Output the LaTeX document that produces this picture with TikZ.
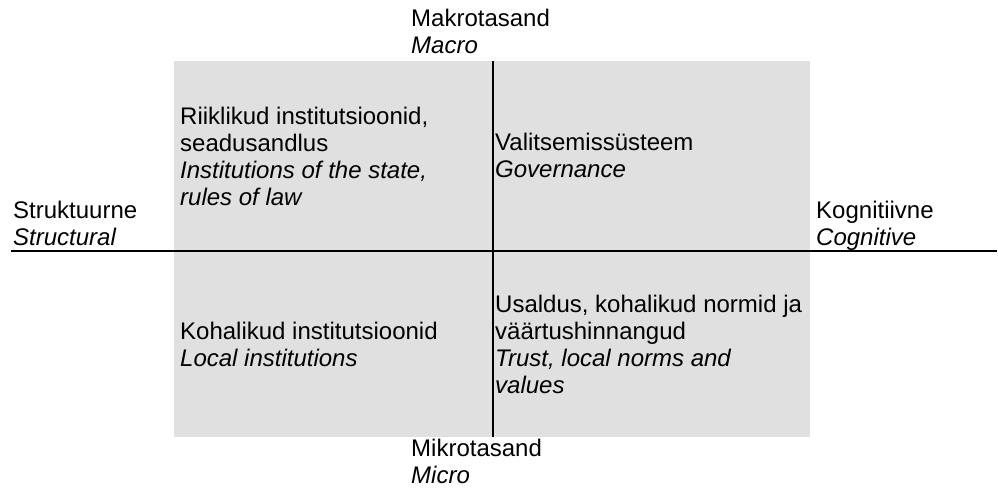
\documentclass[tikz,border=0pt]{standalone}
\usepackage{fontspec}
\setmainfont{Liberation Sans}
\definecolor{cellgray}{RGB}{224,224,224}

\begin{document}
\begin{tikzpicture}[x=1pt,y=-1pt,
  lbl/.style={anchor=base west,align=left,inner sep=0pt,font=\fontsize{24}{27}\selectfont}]
  \useasboundingbox (0,0) rectangle (998,490);
  % grey field and axes
  \fill[cellgray] (174,61) rectangle (810,437);
  \coordinate (west) at (11,251);
  \coordinate (east) at (997,251);
  \coordinate (top) at (493,61);
  \coordinate (bottom) at (493,437);
  \draw[line width=1.8pt] (west) -- (east);
  \draw[line width=1.8pt] (top) -- (bottom);
  % axis labels (placed at the baseline of their last line)
  \node[lbl] (macro) at (411,53) {Makrotasand\\\itshape Macro};
  \node[lbl] (micro) at (411,483) {Mikrotasand\\\itshape Micro};
  \node[lbl] (struct) at (13,245) {Struktuurne\\\itshape Structural};
  \node[lbl] (cogn) at (816,245) {Kognitiivne\\\itshape Cognitive};
  % quadrants
  \node[lbl] (q1) at (180,205) {Riiklikud institutsioonid,\\seadusandlus\\\itshape Institutions of the state,\\\itshape rules of law};
  \node[lbl] (q2) at (495,177) {Valitsemissüsteem\\\itshape Governance};
  \node[lbl] (q3) at (180,366) {Kohalikud institutsioonid\\\itshape Local institutions};
  \node[lbl] (q4) at (495,393) {Usaldus, kohalikud normid ja\\väärtushinnangud\\\itshape Trust, local norms and\\\itshape values};
\end{tikzpicture}
\end{document}
